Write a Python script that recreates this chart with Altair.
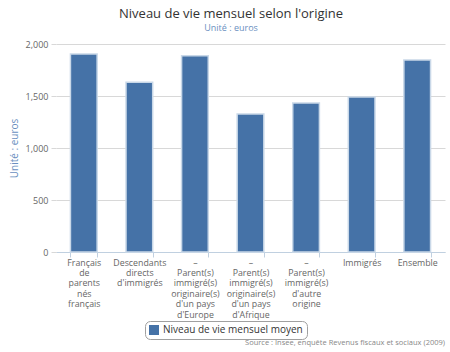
import altair as alt
import pandas as pd

categories = [
    "Français|de|parents|nés|français",
    "Descendants|directs|d'immigrés",
    "–|Parent(s)|immigré(s)|originaire(s)|d'un pays|d'Europe",
    "–|Parent(s)|immigré(s)|originaire(s)|d'un pays|d'Afrique",
    "–|Parent(s)|immigré(s)|d'autre|origine",
    "Immigrés",
    "Ensemble",
]
values = [1904, 1633, 1886, 1327, 1432, 1490, 1846]
series = ["Niveau de vie mensuel moyen"] * len(values)
source_text = ["Source : Insee, enquête Revenus fiscaux et sociaux (2009)"]

df = pd.DataFrame({"cat": categories, "val": values, "serie": series})
FONT = "Open Sans"

bars = alt.Chart(df).mark_bar(stroke="#c9d8e8", strokeWidth=1.5).encode(
    x=alt.X("cat:N", sort=None, title=None,
            scale=alt.Scale(paddingInner=0.52, paddingOuter=0.26),
            axis=alt.Axis(labelAngle=0, labelExpr="split(datum.label, '|')",
                          labelLimit=0, labelLineHeight=10.4, labelFontSize=8.8,
                          labelColor="#666666", labelFont=FONT, labelPadding=1,
                          tickBand="extent", tickColor="#c0d0e0", tickSize=5,
                          domainColor="#c0d0e0", labelOverlap=False, labelBaseline="top")),
    y=alt.Y("val:Q", title="Unité : euros",
            scale=alt.Scale(domain=[0, 2000], nice=False),
            axis=alt.Axis(values=[0, 500, 1000, 1500, 2000], format=",.0f",
                          domain=False, tickSize=5, tickColor="#d8d8d8",
                          gridColor="#d8d8d8", labelColor="#666666", labelFont=FONT,
                          labelFontSize=9, labelPadding=3,
                          titleColor="#6a8fc0", titleFont=FONT, titleFontSize=10,
                          titleFontWeight="normal", titlePadding=6)),
    color=alt.Color("serie:N", title=None,
                    scale=alt.Scale(range=["#4572a7"]),
                    legend=alt.Legend(orient="none", legendX=89, legendY=277,
                                      strokeColor="#a0a0a0", cornerRadius=5,
                                      padding=4, symbolType="square", symbolSize=100,
                                      symbolStrokeWidth=0,
                                      labelFont=FONT, labelFontSize=10,
                                      labelColor="#333333")),
)

src = alt.Chart(pd.DataFrame({"t": source_text})).mark_text(
    align="right", baseline="middle", fontSize=7.5, color="#888888", font=FONT
).encode(text="t:N", x=alt.value(389), y=alt.value(299))

chart = alt.layer(bars, src).properties(
    width=389, height=208,
    padding={"left": 56, "top": 44, "right": 5, "bottom": 100},
    autosize=alt.AutoSizeParams(type="none"),
    title=alt.TitleParams("Niveau de vie mensuel selon l'origine",
                          subtitle="Unité : euros", anchor="middle", frame="bounds",
                          font=FONT, fontSize=13, fontWeight="normal", color="#333333",
                          subtitleFont=FONT, subtitleFontSize=9, subtitleColor="#6a8fc0",
                          offset=7, subtitlePadding=3, dx=4),
).configure_view(stroke=None).configure_axis(grid=True).configure_axisX(grid=False)

chart.save("out.html", embed_options={"renderer": "svg", "actions": False})
